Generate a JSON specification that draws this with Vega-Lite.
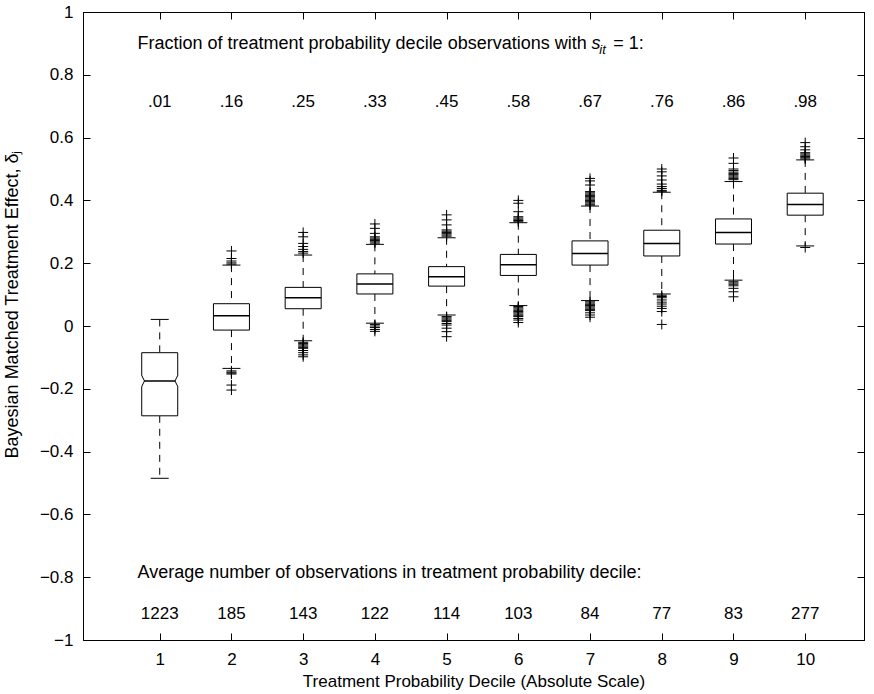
{
  "$schema": "https://vega.github.io/schema/vega-lite/v6.json",
  "width": 781,
  "height": 628,
  "autosize": {"type": "none"},
  "padding": {"left": 83, "top": 12, "right": 10, "bottom": 54},
  "background": "white",
  "config": {
    "view": {"stroke": "black", "strokeWidth": 1},
    "font": "Liberation Sans",
    "text": {"font": "Liberation Sans", "color": "black"},
    "axis": {
      "labelFont": "Liberation Sans", "labelFontSize": 17, "labelColor": "black",
      "titleFont": "Liberation Sans", "titleFontSize": 17, "titleFontWeight": "normal", "titleColor": "black",
      "domainColor": "black", "tickColor": "black", "grid": false, "tickSize": -7, "domainWidth": 1, "tickWidth": 1
    }
  },
  "datasets": {
    "boxes": [
      {"decile": 1, "lo": -0.485, "q1": -0.286, "med": -0.175, "q3": -0.085, "hi": 0.021, "frac": ".01", "n": "1223"},
      {"decile": 2, "lo": -0.135, "q1": -0.013, "med": 0.033, "q3": 0.071, "hi": 0.194, "frac": ".16", "n": "185"},
      {"decile": 3, "lo": -0.047, "q1": 0.055, "med": 0.090, "q3": 0.123, "hi": 0.226, "frac": ".25", "n": "143"},
      {"decile": 4, "lo": 0.009, "q1": 0.102, "med": 0.134, "q3": 0.166, "hi": 0.260, "frac": ".33", "n": "122"},
      {"decile": 5, "lo": 0.035, "q1": 0.127, "med": 0.157, "q3": 0.189, "hi": 0.281, "frac": ".45", "n": "114"},
      {"decile": 6, "lo": 0.065, "q1": 0.161, "med": 0.195, "q3": 0.228, "hi": 0.329, "frac": ".58", "n": "103"},
      {"decile": 7, "lo": 0.081, "q1": 0.194, "med": 0.231, "q3": 0.271, "hi": 0.382, "frac": ".67", "n": "84"},
      {"decile": 8, "lo": 0.102, "q1": 0.223, "med": 0.263, "q3": 0.305, "hi": 0.426, "frac": ".76", "n": "77"},
      {"decile": 9, "lo": 0.146, "q1": 0.261, "med": 0.298, "q3": 0.341, "hi": 0.460, "frac": ".86", "n": "83"},
      {"decile": 10, "lo": 0.255, "q1": 0.353, "med": 0.387, "q3": 0.423, "hi": 0.529, "frac": ".98", "n": "277"}
    ],
    "outliers": [
      {"decile": 2, "value": 0.239}, {"decile": 2, "value": 0.215}, {"decile": 2, "value": 0.207}, {"decile": 2, "value": 0.201}, {"decile": 2, "value": 0.197},
      {"decile": 2, "value": -0.143}, {"decile": 2, "value": -0.147}, {"decile": 2, "value": -0.150}, {"decile": 2, "value": -0.153}, {"decile": 2, "value": -0.188}, {"decile": 2, "value": -0.204},
      {"decile": 3, "value": 0.298}, {"decile": 3, "value": 0.284}, {"decile": 3, "value": 0.263}, {"decile": 3, "value": 0.253}, {"decile": 3, "value": 0.244}, {"decile": 3, "value": 0.237}, {"decile": 3, "value": 0.232},
      {"decile": 3, "value": -0.052}, {"decile": 3, "value": -0.056}, {"decile": 3, "value": -0.060}, {"decile": 3, "value": -0.064}, {"decile": 3, "value": -0.068}, {"decile": 3, "value": -0.071}, {"decile": 3, "value": -0.078}, {"decile": 3, "value": -0.085}, {"decile": 3, "value": -0.092}, {"decile": 3, "value": -0.098},
      {"decile": 4, "value": 0.325}, {"decile": 4, "value": 0.311}, {"decile": 4, "value": 0.295}, {"decile": 4, "value": 0.284}, {"decile": 4, "value": 0.280}, {"decile": 4, "value": 0.276}, {"decile": 4, "value": 0.272}, {"decile": 4, "value": 0.268}, {"decile": 4, "value": 0.264},
      {"decile": 4, "value": 0.005}, {"decile": 4, "value": 0.0}, {"decile": 4, "value": -0.005}, {"decile": 4, "value": -0.011}, {"decile": 4, "value": -0.017},
      {"decile": 5, "value": 0.354}, {"decile": 5, "value": 0.338}, {"decile": 5, "value": 0.322}, {"decile": 5, "value": 0.306}, {"decile": 5, "value": 0.302}, {"decile": 5, "value": 0.298}, {"decile": 5, "value": 0.294}, {"decile": 5, "value": 0.290}, {"decile": 5, "value": 0.286},
      {"decile": 5, "value": 0.030}, {"decile": 5, "value": 0.026}, {"decile": 5, "value": 0.022}, {"decile": 5, "value": 0.018}, {"decile": 5, "value": 0.014}, {"decile": 5, "value": 0.008}, {"decile": 5, "value": 0.003}, {"decile": 5, "value": -0.007}, {"decile": 5, "value": -0.018}, {"decile": 5, "value": -0.034},
      {"decile": 6, "value": 0.400}, {"decile": 6, "value": 0.391}, {"decile": 6, "value": 0.364}, {"decile": 6, "value": 0.348}, {"decile": 6, "value": 0.344}, {"decile": 6, "value": 0.340}, {"decile": 6, "value": 0.336}, {"decile": 6, "value": 0.332},
      {"decile": 6, "value": 0.062}, {"decile": 6, "value": 0.058}, {"decile": 6, "value": 0.054}, {"decile": 6, "value": 0.050}, {"decile": 6, "value": 0.046}, {"decile": 6, "value": 0.042}, {"decile": 6, "value": 0.038}, {"decile": 6, "value": 0.034}, {"decile": 6, "value": 0.030}, {"decile": 6, "value": 0.024}, {"decile": 6, "value": 0.019}, {"decile": 6, "value": 0.011},
      {"decile": 7, "value": 0.470}, {"decile": 7, "value": 0.462}, {"decile": 7, "value": 0.449}, {"decile": 7, "value": 0.428}, {"decile": 7, "value": 0.424}, {"decile": 7, "value": 0.420}, {"decile": 7, "value": 0.416}, {"decile": 7, "value": 0.412}, {"decile": 7, "value": 0.408}, {"decile": 7, "value": 0.404}, {"decile": 7, "value": 0.400}, {"decile": 7, "value": 0.396}, {"decile": 7, "value": 0.392}, {"decile": 7, "value": 0.388}, {"decile": 7, "value": 0.385},
      {"decile": 7, "value": 0.077}, {"decile": 7, "value": 0.073}, {"decile": 7, "value": 0.069}, {"decile": 7, "value": 0.065}, {"decile": 7, "value": 0.061}, {"decile": 7, "value": 0.057}, {"decile": 7, "value": 0.053}, {"decile": 7, "value": 0.049}, {"decile": 7, "value": 0.042}, {"decile": 7, "value": 0.035}, {"decile": 7, "value": 0.028},
      {"decile": 8, "value": 0.500}, {"decile": 8, "value": 0.491}, {"decile": 8, "value": 0.478}, {"decile": 8, "value": 0.465}, {"decile": 8, "value": 0.452}, {"decile": 8, "value": 0.444}, {"decile": 8, "value": 0.438}, {"decile": 8, "value": 0.432}, {"decile": 8, "value": 0.429},
      {"decile": 8, "value": 0.098}, {"decile": 8, "value": 0.094}, {"decile": 8, "value": 0.090}, {"decile": 8, "value": 0.083}, {"decile": 8, "value": 0.076}, {"decile": 8, "value": 0.070}, {"decile": 8, "value": 0.063}, {"decile": 8, "value": 0.056}, {"decile": 8, "value": 0.046}, {"decile": 8, "value": 0.005},
      {"decile": 9, "value": 0.535}, {"decile": 9, "value": 0.518}, {"decile": 9, "value": 0.500}, {"decile": 9, "value": 0.495}, {"decile": 9, "value": 0.490}, {"decile": 9, "value": 0.486}, {"decile": 9, "value": 0.482}, {"decile": 9, "value": 0.478}, {"decile": 9, "value": 0.474}, {"decile": 9, "value": 0.470}, {"decile": 9, "value": 0.466},
      {"decile": 9, "value": 0.141}, {"decile": 9, "value": 0.137}, {"decile": 9, "value": 0.133}, {"decile": 9, "value": 0.128}, {"decile": 9, "value": 0.120}, {"decile": 9, "value": 0.109}, {"decile": 9, "value": 0.093},
      {"decile": 10, "value": 0.584}, {"decile": 10, "value": 0.571}, {"decile": 10, "value": 0.561}, {"decile": 10, "value": 0.552}, {"decile": 10, "value": 0.548}, {"decile": 10, "value": 0.544}, {"decile": 10, "value": 0.540}, {"decile": 10, "value": 0.536}, {"decile": 10, "value": 0.532},
      {"decile": 10, "value": 0.250}
    ]
  },
  "layer": [
    {
      "data": {"name": "boxes"},
      "mark": {"type": "rule", "color": "black", "strokeWidth": 1, "strokeDash": [7, 6]},
      "encoding": {
        "x": {"field": "decile", "type": "quantitative", "scale": {"domain": [0, 10.75], "nice": false, "zero": false}, "axis": null},
        "y": {"field": "hi", "type": "quantitative", "scale": {"domain": [-1, 1], "nice": false, "zero": false}, "axis": null},
        "y2": {"field": "q3"}
      }
    },
    {
      "data": {"name": "boxes"},
      "mark": {"type": "rule", "color": "black", "strokeWidth": 1, "strokeDash": [7, 6]},
      "encoding": {
        "x": {"field": "decile", "type": "quantitative", "axis": null},
        "y": {"field": "q1", "type": "quantitative", "axis": null},
        "y2": {"field": "lo"}
      }
    },
    {
      "data": {"name": "boxes"},
      "mark": {"type": "tick", "orient": "horizontal", "size": 18, "thickness": 1, "color": "black", "opacity": 1},
      "encoding": {
        "x": {"field": "decile", "type": "quantitative", "axis": {"orient": "top", "values": [1, 2, 3, 4, 5, 6, 7, 8, 9, 10], "labels": false, "title": null, "tickSize": -7}},
        "y": {"field": "hi", "type": "quantitative", "axis": {"orient": "right", "values": [-1, -0.8, -0.6, -0.4, -0.2, 0, 0.2, 0.4, 0.6, 0.8, 1], "labels": false, "title": null, "tickSize": -7}}
      }
    },
    {
      "data": {"name": "boxes"},
      "mark": {"type": "tick", "orient": "horizontal", "size": 18, "thickness": 1, "color": "black", "opacity": 1},
      "encoding": {
        "x": {"field": "decile", "type": "quantitative", "axis": null},
        "y": {"field": "lo", "type": "quantitative", "axis": null}
      }
    },
    {
      "data": {"name": "boxes"},
      "mark": {"type": "bar", "size": 36, "fill": "white", "stroke": "black", "strokeWidth": 1, "opacity": 1},
      "encoding": {
        "x": {"field": "decile", "type": "quantitative", "axis": {"orient": "bottom", "values": [1, 2, 3, 4, 5, 6, 7, 8, 9, 10], "format": "d", "title": "Treatment Probability Decile (Absolute Scale)", "labelPadding": 18, "titlePadding": 6}},
        "y": {"field": "q3", "type": "quantitative", "axis": {"orient": "left", "values": [-1, -0.8, -0.6, -0.4, -0.2, 0, 0.2, 0.4, 0.6, 0.8, 1], "format": "~g", "title": "Bayesian Matched Treatment Effect,  δⱼ", "labelPadding": 17, "titleX": -71, "titleY": 292, "titleBaseline": "middle", "titleAlign": "center", "titleAngle": -90, "titleFontSize": 18}},
        "y2": {"field": "q1"}
      }
    },
    {
      "data": {"name": "boxes"},
      "mark": {"type": "tick", "orient": "horizontal", "size": 36, "thickness": 1.5, "color": "black", "opacity": 1},
      "encoding": {
        "x": {"field": "decile", "type": "quantitative", "axis": null},
        "y": {"field": "med", "type": "quantitative", "axis": null}
      }
    },
    {
      "data": {"name": "boxes"},
      "transform": [{"filter": "datum.decile == 1"}],
      "mark": {"type": "point", "shape": "M-0.3,-1L0,-1L0.5,0L0,1L-0.3,1Z", "size": 121, "filled": true, "fill": "white", "strokeWidth": 0, "opacity": 1, "xOffset": -18},
      "encoding": {
        "x": {"field": "decile", "type": "quantitative", "axis": null},
        "y": {"field": "med", "type": "quantitative", "axis": null}
      }
    },
    {
      "data": {"name": "boxes"},
      "transform": [{"filter": "datum.decile == 1"}],
      "mark": {"type": "point", "shape": "M0.3,-1L0,-1L-0.5,0L0,1L0.3,1Z", "size": 121, "filled": true, "fill": "white", "strokeWidth": 0, "opacity": 1, "xOffset": 18},
      "encoding": {
        "x": {"field": "decile", "type": "quantitative", "axis": null},
        "y": {"field": "med", "type": "quantitative", "axis": null}
      }
    },
    {
      "data": {"name": "boxes"},
      "transform": [{"filter": "datum.decile == 1"}],
      "mark": {"type": "point", "shape": "M0,-1L0.5,0L0,1", "size": 121, "filled": false, "stroke": "black", "strokeWidth": 1, "opacity": 1, "xOffset": -18},
      "encoding": {
        "x": {"field": "decile", "type": "quantitative", "axis": null},
        "y": {"field": "med", "type": "quantitative", "axis": null}
      }
    },
    {
      "data": {"name": "boxes"},
      "transform": [{"filter": "datum.decile == 1"}],
      "mark": {"type": "point", "shape": "M0,-1L-0.5,0L0,1", "size": 121, "filled": false, "stroke": "black", "strokeWidth": 1, "opacity": 1, "xOffset": 18},
      "encoding": {
        "x": {"field": "decile", "type": "quantitative", "axis": null},
        "y": {"field": "med", "type": "quantitative", "axis": null}
      }
    },
    {
      "data": {"name": "outliers"},
      "mark": {"type": "point", "shape": "M-1,0L1,0M0,-1L0,1", "size": 100, "filled": false, "stroke": "black", "strokeWidth": 1, "opacity": 1},
      "encoding": {
        "x": {"field": "decile", "type": "quantitative", "axis": null},
        "y": {"field": "value", "type": "quantitative", "axis": null}
      }
    },
    {
      "data": {"name": "boxes"},
      "mark": {"type": "text", "fontSize": 17, "align": "center", "baseline": "middle", "color": "black"},
      "encoding": {
        "x": {"field": "decile", "type": "quantitative", "axis": null},
        "y": {"datum": 0.712, "type": "quantitative", "axis": null},
        "text": {"field": "frac"}
      }
    },
    {
      "data": {"name": "boxes"},
      "mark": {"type": "text", "fontSize": 17, "align": "center", "baseline": "middle", "color": "black"},
      "encoding": {
        "x": {"field": "decile", "type": "quantitative", "axis": null},
        "y": {"datum": -0.917, "type": "quantitative", "axis": null},
        "text": {"field": "n"}
      }
    },
    {
      "data": {"values": [{}]},
      "mark": {"type": "text", "fontSize": 18, "align": "left", "baseline": "alphabetic", "color": "black", "text": "Fraction of treatment probability decile observations with"},
      "encoding": {
        "x": {"datum": 0.69, "type": "quantitative", "axis": null},
        "y": {"datum": 0.881, "type": "quantitative", "axis": null}
      }
    },
    {
      "data": {"values": [{}]},
      "mark": {"type": "text", "fontSize": 18, "fontStyle": "italic", "align": "left", "baseline": "alphabetic", "color": "black", "text": "s"},
      "encoding": {
        "x": {"datum": 7.02, "type": "quantitative", "axis": null},
        "y": {"datum": 0.881, "type": "quantitative", "axis": null}
      }
    },
    {
      "data": {"values": [{}]},
      "mark": {"type": "text", "fontSize": 13, "fontStyle": "italic", "align": "left", "baseline": "alphabetic", "color": "black", "text": "it"},
      "encoding": {
        "x": {"datum": 7.13, "type": "quantitative", "axis": null},
        "y": {"datum": 0.865, "type": "quantitative", "axis": null}
      }
    },
    {
      "data": {"values": [{}]},
      "mark": {"type": "text", "fontSize": 18, "align": "left", "baseline": "alphabetic", "color": "black", "text": "= 1:"},
      "encoding": {
        "x": {"datum": 7.323, "type": "quantitative", "axis": null},
        "y": {"datum": 0.881, "type": "quantitative", "axis": null}
      }
    },
    {
      "data": {"values": [{}]},
      "mark": {"type": "text", "fontSize": 18, "align": "left", "baseline": "middle", "color": "black", "text": "Average number of observations in treatment probability decile:"},
      "encoding": {
        "x": {"datum": 0.69, "type": "quantitative", "axis": null},
        "y": {"datum": -0.787, "type": "quantitative", "axis": null}
      }
    }
  ],
  "resolve": {"axis": {"x": "independent", "y": "independent"}}
}
